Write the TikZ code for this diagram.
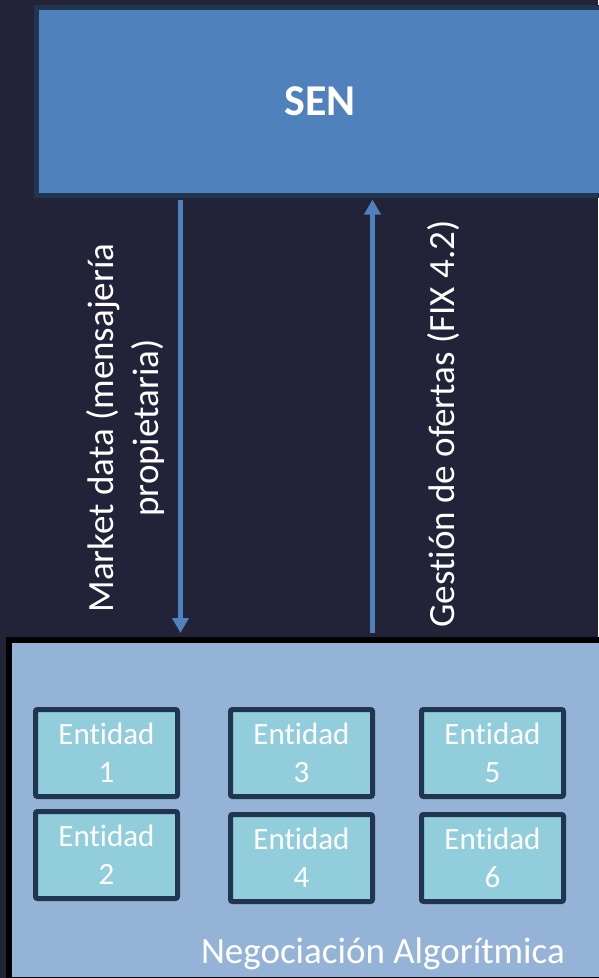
\documentclass[tikz,border=0pt]{standalone}
\usepackage{fontspec}
\setmainfont{Carlito}[Ligatures=NoCommon]
\usetikzlibrary{arrows.meta}
\definecolor{bgnavy}{RGB}{34,34,56}
\definecolor{senblue}{RGB}{79,129,189}
\definecolor{edgeblue}{RGB}{31,53,80}
\definecolor{negfill}{RGB}{149,179,215}
\definecolor{entfill}{RGB}{146,205,220}

\begin{document}
\begin{tikzpicture}[x=1pt, y=-1pt,
  entidad/.style={draw=edgeblue, fill=entfill, line width=5pt, rounded corners=2pt, minimum width=142pt, minimum height=87pt, inner sep=0pt, align=center, text=white, font=\fontsize{31}{38}\selectfont},
  flow/.style={draw=senblue, line width=4.5pt, -{Triangle[width=16pt,length=15pt]}},
  lbl/.style={text=white, inner sep=0pt, font=\fontsize{37}{45}\selectfont}]

\useasboundingbox (0,0) rectangle (598,978);
\fill[bgnavy] (0,0) rectangle (598,978);

\node[draw=edgeblue, fill=senblue, line width=5pt, minimum width=567pt, minimum height=187.5pt, text=white, font=\bfseries\fontsize{44}{53}\selectfont] at (320,101.25) (sen) {SEN};
\node[draw=black, fill=negfill, line width=6pt, minimum width=595pt, minimum height=340.5pt] at (306.5,809.75) (neg) {};

\node[entidad] at (106.5,753) (e1) {Entidad\\1};
\node[entidad] at (106.5,855) (e2) {Entidad\\2};
\node[entidad] at (301.5,753) (e3) {Entidad\\3};
\node[entidad] at (301.5,858) (e4) {Entidad\\4};
\node[entidad] at (492.5,753) (e5) {Entidad\\5};
\node[entidad] at (492.5,858) (e6) {Entidad\\6};
\node[lbl, anchor=base east] at (565,963) (negtxt) {Negociación Algorítmica};

% market data down, orders up
\coordinate (mkt) at (180.5,0);
\coordinate (ofr) at (372.5,0);
\draw[flow, shorten <=2.5pt, shorten >=3.5pt] (sen.south -| mkt) -- (neg.north -| mkt);
\draw[flow, shorten <=3.5pt, shorten >=2pt] (neg.north -| ofr) -- (sen.south -| ofr);

\node[lbl, rotate=90, align=center] at (125,428) (mktlbl) {Market data (mensajería\\propietaria)};
\node[lbl, rotate=90, anchor=base] at (454,424) (ofrlbl) {Gestión de ofertas (FIX 4.2)};
\end{tikzpicture}
\end{document}
